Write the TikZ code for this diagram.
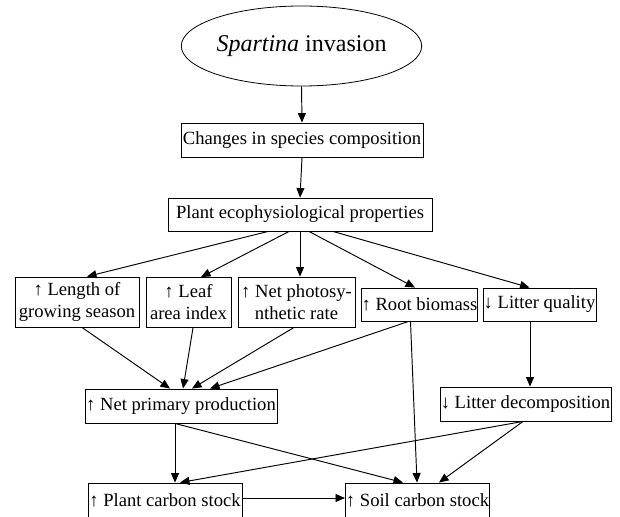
\documentclass[tikz,border=0pt]{standalone}
\usepackage{fontspec}
\setmainfont{Liberation Serif}
\usetikzlibrary{shapes.geometric,arrows.meta}
\begin{document}
\begin{tikzpicture}[x=1pt,y=-1pt,
  box/.style={draw,line width=0.9pt,inner xsep=0.5pt,inner ysep=0pt,align=center,font=\fontsize{18.6}{22}\selectfont},
  arr/.style={-{Triangle[length=9.5pt,width=8pt]},line width=0.95pt}]
\useasboundingbox (0,0) rectangle (620,516);
\node[ellipse,draw,line width=0.8pt,minimum width=217pt,minimum height=80pt,inner sep=0pt,font=\fontsize{24}{28}\selectfont] (inv) at (301.5,46) {\textit{Spartina} invasion};
\node[box,minimum width=242pt,minimum height=34pt] (chg) at (302,140) {Changes in species composition};
\node[box,minimum width=264pt,minimum height=33pt] (eco) at (300,214.5) {Plant ecophysiological properties};
\node[box,minimum width=124pt,minimum height=50pt] (len) at (77,302) {↑ Length of\\growing season};
\node[box,minimum width=85pt,minimum height=50pt] (lai) at (188.5,302.5) {↑ Leaf\\area index};
\node[box,minimum width=117pt,minimum height=50pt] (pho) at (296.5,302) {↑ Net photosy-\\nthetic rate};
\node[box,minimum width=115pt,minimum height=33pt] (rb) at (419.5,304.5) {↑ Root biomass};
\node[box,minimum width=113pt,minimum height=33pt] (lq) at (539.5,304.5) {↓ Litter quality};
\node[box,minimum width=192pt,minimum height=34pt] (npp) at (181,406) {↑ Net primary production};
\node[box,minimum width=171pt,minimum height=34pt] (ld) at (525.5,404) {↓ Litter decomposition};
\node[box,minimum width=154pt,minimum height=35pt] (pcs) at (165,500.5) {↑ Plant carbon stock};
\node[box,minimum width=143pt,minimum height=35pt] (scs) at (417.5,500.5) {↑ Soil carbon stock};
\draw[arr] (inv.south) -- (chg.north);
\draw[arr] (chg.south) -- (eco.north);
\draw[arr] ([xshift=-32pt]eco.south) -- ([xshift=10pt]len.north);
\draw[arr] ([xshift=-11pt]eco.south) -- ([xshift=12.5pt]lai.north);
\draw[arr] (eco.south) -- ([xshift=3.5pt]pho.north);
\draw[arr] ([xshift=9pt]eco.south) -- ([xshift=-4.5pt]rb.north);
\draw[arr] ([xshift=33pt]eco.south) -- ([xshift=-10pt]lq.north);
\draw[arr] ([xshift=5pt]len.south) -- ([xshift=-11pt]npp.north);
\draw[arr] ([xshift=4.5pt]lai.south) -- ([xshift=2pt]npp.north);
\draw[arr] ([xshift=-2.5pt]pho.south) -- ([xshift=11pt]npp.north);
\draw[arr] ([xshift=-11pt]rb.south) -- ([xshift=29pt]npp.north);
\draw[arr] ([xshift=-9pt]rb.south) -- ([xshift=-0.5pt]scs.north);
\draw[arr] ([xshift=-9.5pt]lq.south) -- ([xshift=4.5pt]ld.north);
\draw[arr] ([xshift=-6pt]npp.south) -- ([xshift=10pt]pcs.north);
\draw[arr] ([xshift=-6pt]npp.south) -- ([xshift=-14.5pt]scs.north);
\draw[arr] ([xshift=-2.5pt]ld.south) -- ([xshift=15pt]pcs.north);
\draw[arr] ([xshift=-2.5pt]ld.south) -- ([xshift=21.5pt]scs.north);
\draw[arr] ([yshift=2.5pt]pcs.east) -- ([yshift=2.5pt]scs.west);
\end{tikzpicture}
\end{document}
